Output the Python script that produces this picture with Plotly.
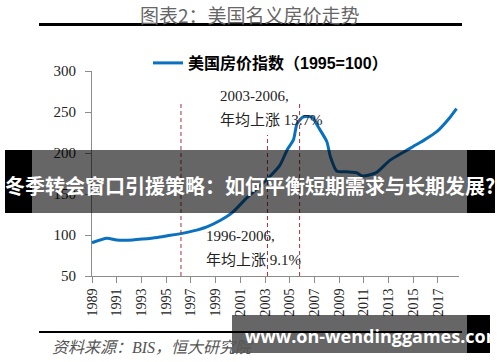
import plotly.graph_objects as go

# ---- data ----
years = [1989.0, 1990.2, 1991.0, 1992.3, 1993.1, 1994.3, 1995.1, 1996.3, 1997.2, 1998.3,
         1999.4, 2000.4, 2001.5, 2003.1, 2004.2, 2004.8, 2005.3, 2005.6, 2006.1, 2006.8,
         2007.3, 2008.0, 2008.3, 2008.8, 2009.6, 2010.4, 2010.9, 2012.0, 2013.1, 2014.2,
         2015.0, 2015.8, 2016.9, 2018.0, 2018.5]
index_values = [90.6, 96, 94, 94, 95, 97, 99, 102, 105, 110,
                118, 128, 145, 167, 185, 204, 216, 236, 244, 244,
                232, 214, 195, 178, 177, 176, 172, 176, 191, 201,
                208, 215, 226, 244, 254]
series_name = "美国房价指数（1995=100）"
x_ticks = list(range(1989, 2018, 2))
y_ticks = [50, 100, 150, 200, 250, 300]
period_marks = [1996.2, 2003.2, 2005.8]
period_tops = [261, 222, 262]

title_text = "图表2：美国名义房价走势"
note_a = ["2003-2006,", "年均上涨 13.7%"]
note_b = ["1996-2006,", "年均上涨 9.1%"]
source_text = "资料来源：BIS，恒大研究院"
banner_text = "冬季转会窗口引援策略：如何平衡短期需求与长期发展?"
watermark_text = "www.on-wendinggames.com"

W, H = 500, 362
PL, PR, PT, PB = 92, 459, 71, 276


def px(x):
    return (x - PL) / (PR - PL)


def py(y):
    return (PB - y) / (PB - PT)


serif = "Liberation Serif, 'Noto Sans CJK SC', serif"
cjk = "'Noto Sans CJK SC', sans-serif"

fig = go.Figure()
fig.add_trace(go.Scatter(
    x=years, y=index_values, mode="lines", name=series_name,
    line=dict(color="#0A70C0", width=3, shape="spline", smoothing=0.6),
    showlegend=True,
))

shapes = []
for xm, top in zip(period_marks, period_tops):
    shapes.append(dict(type="line", xref="x", yref="y", x0=xm, x1=xm, y0=50, y1=top,
                       line=dict(color="#A3343A", width=1, dash="4px,3px"), layer="above"))
# rules under title and above source
shapes.append(dict(type="line", xref="paper", yref="paper", x0=px(39), x1=px(462), y0=py(24.5), y1=py(24.5),
                   line=dict(color="black", width=3)))
shapes.append(dict(type="line", xref="paper", yref="paper", x0=px(39), x1=px(462), y0=py(332), y1=py(332),
                   line=dict(color="black", width=2)))
# banner overlay
shapes.append(dict(type="rect", xref="paper", yref="paper", x0=px(32), x1=px(467), y0=py(213), y1=py(150),
                   fillcolor="rgba(0,0,0,0.6)", line=dict(width=0)))
shapes.append(dict(type="rect", xref="paper", yref="paper", x0=px(5), x1=px(32), y0=py(213), y1=py(150),
                   fillcolor="black", line=dict(width=0)))
shapes.append(dict(type="rect", xref="paper", yref="paper", x0=px(467), x1=px(495), y0=py(213), y1=py(150),
                   fillcolor="black", line=dict(width=0)))
# watermark overlay
shapes.append(dict(type="rect", xref="paper", yref="paper", x0=px(232), x1=px(467), y0=py(353), y1=py(315),
                   fillcolor="rgba(0,0,0,0.6)", line=dict(width=0)))
shapes.append(dict(type="rect", xref="paper", yref="paper", x0=px(467), x1=px(490), y0=py(353), y1=py(315),
                   fillcolor="black", line=dict(width=0)))

annotations = [
    dict(text=title_text, x=px(250), y=py(15), xref="paper", yref="paper", showarrow=False,
         xanchor="center", yanchor="middle", font=dict(family=cjk, size=19, color="#666666")),
    dict(text=note_a[0], x=px(218), y=py(96), xref="paper", yref="paper", showarrow=False,
         xanchor="left", yanchor="middle", font=dict(family=serif, size=15, color="#222222")),
    dict(text=note_a[1], x=px(218), y=py(120), xref="paper", yref="paper", showarrow=False,
         xanchor="left", yanchor="middle", font=dict(family=serif, size=15, color="#222222")),
    dict(text=note_b[0], x=px(204), y=py(236), xref="paper", yref="paper", showarrow=False,
         xanchor="left", yanchor="middle", font=dict(family=serif, size=15, color="#222222")),
    dict(text=note_b[1], x=px(204), y=py(260), xref="paper", yref="paper", showarrow=False,
         xanchor="left", yanchor="middle", font=dict(family=serif, size=15, color="#222222")),
    dict(text="<i>" + source_text + "</i>", x=px(50), y=py(347), xref="paper", yref="paper", showarrow=False,
         xanchor="left", yanchor="middle", font=dict(family=serif, size=16, color="#555555")),
    dict(text="<b>" + banner_text + "</b>", x=px(250), y=py(185), xref="paper", yref="paper", showarrow=False,
         xanchor="center", yanchor="middle", font=dict(family=cjk, size=20, color="white")),
    dict(text="<b>" + watermark_text + "</b>", x=px(243), y=py(336), xref="paper", yref="paper", showarrow=False,
         xanchor="left", yanchor="middle", font=dict(family="'Open Sans', sans-serif", size=18, color="white")),
]

fig.update_layout(
    width=W, height=H,
    margin=dict(l=PL, r=W - PR, t=PT, b=H - PB, pad=0),
    paper_bgcolor="white", plot_bgcolor="white",
    shapes=shapes, annotations=annotations,
    showlegend=True,
    legend=dict(x=px(148), y=py(63), xanchor="left", yanchor="middle", orientation="h",
                bgcolor="rgba(0,0,0,0)", borderwidth=0,
                font=dict(family="'Liberation Sans', 'Noto Sans CJK SC', sans-serif", size=16, color="black",
                          weight="bold")),
    xaxis=dict(range=[1989, 2018.7], tickvals=x_ticks, ticktext=[str(t) for t in x_ticks], tickangle=-90,
               showline=True, linecolor="#8c8c8c", linewidth=1, ticks="outside", ticklen=6,
               tickcolor="#8c8c8c", showgrid=False, zeroline=False,
               tickfont=dict(family=serif, size=14, color="#222222")),
    yaxis=dict(range=[50, 300], tickvals=y_ticks, showline=True, linecolor="#8c8c8c", linewidth=1,
               ticks="outside", ticklen=6, tickcolor="#8c8c8c", showgrid=False, zeroline=False,
               ticklabelstandoff=6,
               tickfont=dict(family=serif, size=15, color="#222222")),
)

fig.write_html("out.html", config={"displayModeBar": False},
               post_script="document.body.style.margin='0';document.body.style.overflow='hidden';")
